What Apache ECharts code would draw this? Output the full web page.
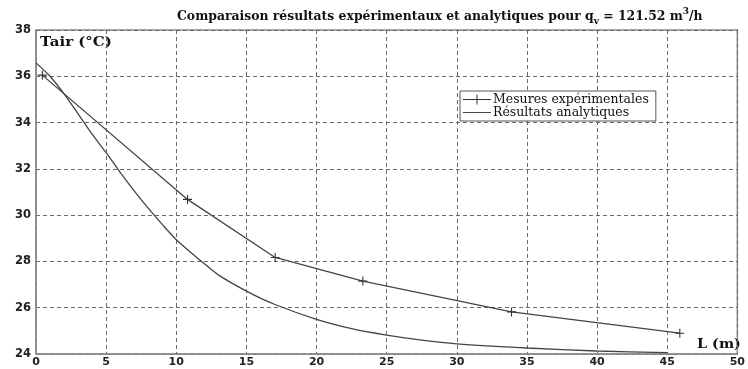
<!DOCTYPE html>
<html>
<head>
<meta charset="utf-8">
<script src="https://cdn.jsdelivr.net/npm/echarts@6/dist/echarts.min.js"></script>
<style>
  html, body { margin: 0; padding: 0; background: #fff; }
  #chart { width: 748px; height: 369px; }
</style>
</head>
<body>
<div id="chart"></div>
<script>
// Air temperature along the duct, qv = 121.52 m3/h
const measuredL = [0.45, 10.8, 17.05, 23.3, 33.9, 45.9];
const measuredT = [36.05, 30.68, 28.17, 27.15, 25.82, 24.9];

const analyticL = [0, 1, 2, 3, 4, 5, 6, 7, 8, 9, 10, 11.8, 13, 15, 17, 20, 22.5, 25, 27.5, 30, 35, 40, 45];
const analyticT = [36.58, 36.0, 35.24, 34.38, 33.5, 32.7, 31.85, 31.05, 30.3, 29.6, 28.94, 28.0, 27.42, 26.72, 26.15, 25.5, 25.1, 24.82, 24.6, 24.44, 24.26, 24.13, 24.06];

const xTicks = { min: 0, max: 50, step: 5 };
const yTicks = { min: 24, max: 38, step: 2 };

const seriesNames = ['Mesures expérimentales', 'Résultats analytiques'];

const pairs = (xs, ys) => xs.map((x, i) => [x, ys[i]]);

const serif = 'DejaVu Serif';
const sans = 'DejaVu Sans';
const plusIcon = 'path://M0,4.4h10v1.2h-10z M4.4,0h1.2v10h-1.2z';
// legend keys: a short line, with a cross for the measured points
const keyMeasured = 'path://M0,4.5h28v1h-28z M13.5,0h1v10h-1z';
const keyAnalytic = 'path://M0,0h0.01v0.01h-0.01z M0,4.5h28v1h-28z M0,9.99h0.01v0.01h-0.01z';

const chart = echarts.init(document.getElementById('chart'), null, { renderer: 'canvas' });

chart.setOption({
  animation: false,
  backgroundColor: '#ffffff',
  title: {
    left: 172,
    top: 2,
    text: '{b|Comparaison résultats expérimentaux et analytiques pour q}{sub|v}{b| = 121.52 m}{sup|3}{b|/h}',
    textStyle: {
      rich: {
        b: { fontFamily: serif, fontWeight: 'bold', fontSize: 12.4, color: '#111', lineHeight: 19 },
        sub: { fontFamily: serif, fontWeight: 'bold', fontSize: 9, color: '#111', lineHeight: 11, verticalAlign: 'bottom' },
        sup: { fontFamily: serif, fontWeight: 'bold', fontSize: 9, color: '#111', lineHeight: 11, verticalAlign: 'top' }
      }
    }
  },
  legend: {
    left: 460,
    top: 91,
    orient: 'vertical',
    data: [
      { name: seriesNames[0], icon: keyMeasured },
      { name: seriesNames[1], icon: keyAnalytic }
    ],
    itemWidth: 28,
    itemHeight: 10,
    itemGap: 0,
    padding: [2, 7, 2, 3],
    borderColor: '#555',
    borderWidth: 1,
    backgroundColor: '#fff',
    textStyle: { fontFamily: serif, fontSize: 12.5, color: '#111', lineHeight: 11, padding: [0, 0, 0, -3] }
  },
  grid: {
    left: 36,
    right: 3,
    top: 30,
    bottom: 15,
    show: true,
    borderColor: '#8c8c8c',
    borderWidth: 1.5,
    containLabel: false
  },
  xAxis: {
    type: 'value',
    min: xTicks.min,
    max: xTicks.max,
    interval: xTicks.step,
    axisLine: { show: true, lineStyle: { color: '#8c8c8c', width: 1.5 } },
    axisTick: { show: false },
    axisLabel: { fontFamily: sans, fontWeight: 'bold', fontSize: 11, color: '#222', margin: 3 },
    splitLine: { show: true, lineStyle: { color: '#6a6a6a', width: 1, type: [4, 3] } }
  },
  yAxis: {
    type: 'value',
    min: yTicks.min,
    max: yTicks.max,
    interval: yTicks.step,
    axisLine: { show: true, lineStyle: { color: '#8c8c8c', width: 1.5 } },
    axisTick: { show: false },
    axisLabel: { fontFamily: sans, fontWeight: 'bold', fontSize: 11.5, color: '#222', margin: 5 },
    splitLine: { show: true, lineStyle: { color: '#6a6a6a', width: 1, type: [4, 3] } }
  },
  graphic: [
    {
      type: 'text', x: 40, y: 36, scaleX: 1.2,
      style: { text: 'Tair (°C)', fontFamily: serif, fontWeight: 'bold', fontSize: 12.5, fill: '#111' }
    },
    {
      type: 'text', x: 697, y: 338, scaleX: 1.15,
      style: { text: 'L (m)', fontFamily: serif, fontWeight: 'bold', fontSize: 12.5, fill: '#111' }
    }
  ],
  series: [
    {
      name: seriesNames[0],
      type: 'line',
      data: pairs(measuredL, measuredT),
      symbol: plusIcon,
      symbolSize: 9,
      showSymbol: true,
      itemStyle: { color: '#333' },
      lineStyle: { color: '#444', width: 1.3 },
      z: 3
    },
    {
      name: seriesNames[1],
      type: 'line',
      data: pairs(analyticL, analyticT),
      symbol: 'none',
      smooth: 0.25,
      itemStyle: { color: '#444' },
      lineStyle: { color: '#444', width: 1.3 },
      z: 2
    }
  ]
});
</script>
</body>
</html>
